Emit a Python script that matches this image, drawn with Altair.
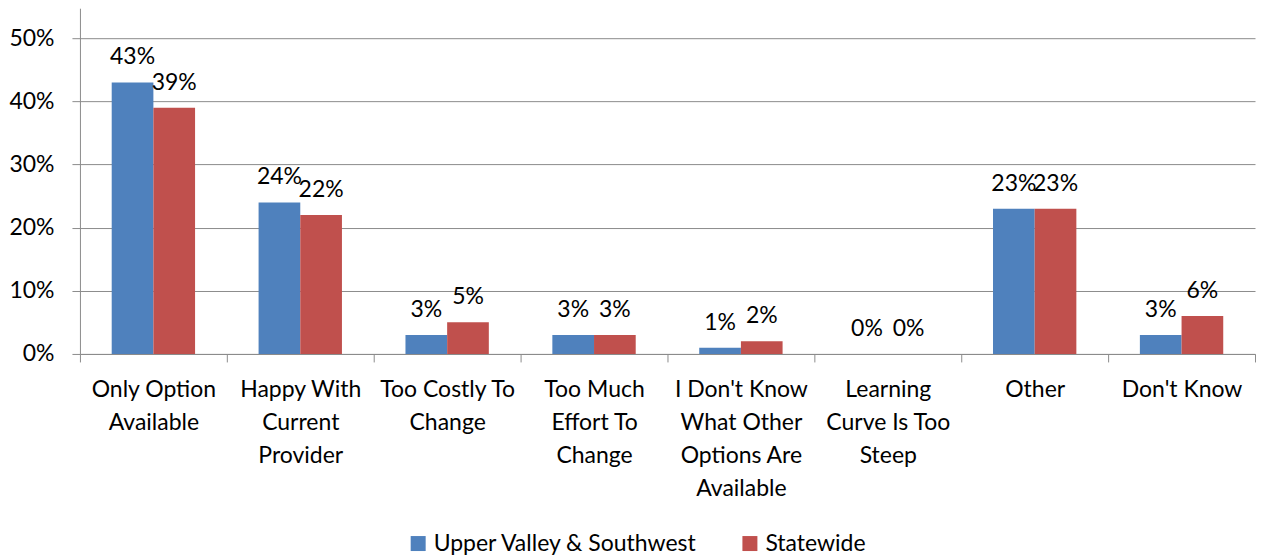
import altair as alt
import pandas as pd

categories = [
    "Only Option\nAvailable",
    "Happy With\nCurrent\nProvider",
    "Too Costly To\nChange",
    "Too Much\nEffort To\nChange",
    "I Don't Know\nWhat Other\nOptions Are\nAvailable",
    "Learning\nCurve Is Too\nSteep",
    "Other",
    "Don't Know",
]
series = ["Upper Valley & Southwest", "Statewide"]
upper = [43, 24, 3, 3, 1, 0, 23, 3]
statewide = [39, 22, 5, 3, 2, 0, 23, 6]
colors = ["#4F81BD", "#C0504D"]
y_ticks = [0, 0.1, 0.2, 0.3, 0.4, 0.5]

rows = []
for c, u, s in zip(categories, upper, statewide):
    rows.append({"cat": c, "series": series[0], "value": u / 100})
    rows.append({"cat": c, "series": series[1], "value": s / 100})
df = pd.DataFrame(rows)

FONT = "Lato"
FS = 23
GRID = "#8c8c8c"

base = alt.Chart(df).encode(
    x=alt.X(
        "cat:N",
        sort=categories,
        scale=alt.Scale(paddingInner=0, paddingOuter=0),
        axis=alt.Axis(
            title=None,
            labelAngle=0,
            labelExpr="split(datum.label, '\\n')",
            labelLineHeight=33,
            labelFont=FONT,
            labelFontSize=FS,
            labelColor="black",
            labelPadding=17,
            labelBaseline="top",
            tickBand="extent",
            tickSize=8,
            tickColor=GRID,
            domainColor=GRID,
            grid=False,
        ),
    ),
    xOffset=alt.XOffset(
        "series:N", sort=series, scale=alt.Scale(paddingOuter=0.762, paddingInner=0)
    ),
    y=alt.Y(
        "value:Q",
        scale=alt.Scale(domain=[0, 0.5475], nice=False),
        axis=alt.Axis(
            title=None,
            values=y_ticks,
            format=".0%",
            labelFont=FONT,
            labelFontSize=FS,
            labelColor="black",
            labelPadding=18,
            tickSize=8,
            tickColor=GRID,
            domainColor=GRID,
            gridColor=GRID,
            grid=True,
        ),
    ),
)

bars = base.mark_bar().encode(
    color=alt.Color(
        "series:N",
        sort=series,
        scale=alt.Scale(domain=series, range=colors),
        legend=alt.Legend(
            title=None,
            orient="none",
            legendX=327,
            legendY=524,
            direction="horizontal",
            symbolType="square",
            symbolSize=225,
            symbolStrokeWidth=0,
            labelFont=FONT,
            labelFontSize=FS,
            labelColor="black",
            labelLimit=400,
            columnPadding=40,
        ),
    )
)

labels = base.mark_text(baseline="middle", dy=-25, font=FONT, fontSize=FS, color="black").encode(
    text=alt.Text("value:Q", format=".0%")
)

chart = (
    alt.layer(bars, labels)
    .properties(width=1176, height=346, padding={"left": 0, "top": 0, "right": 0, "bottom": 0})
    .configure_view(stroke=None)
)

chart.save("out.html", embed_options={"renderer": "svg", "actions": False})
